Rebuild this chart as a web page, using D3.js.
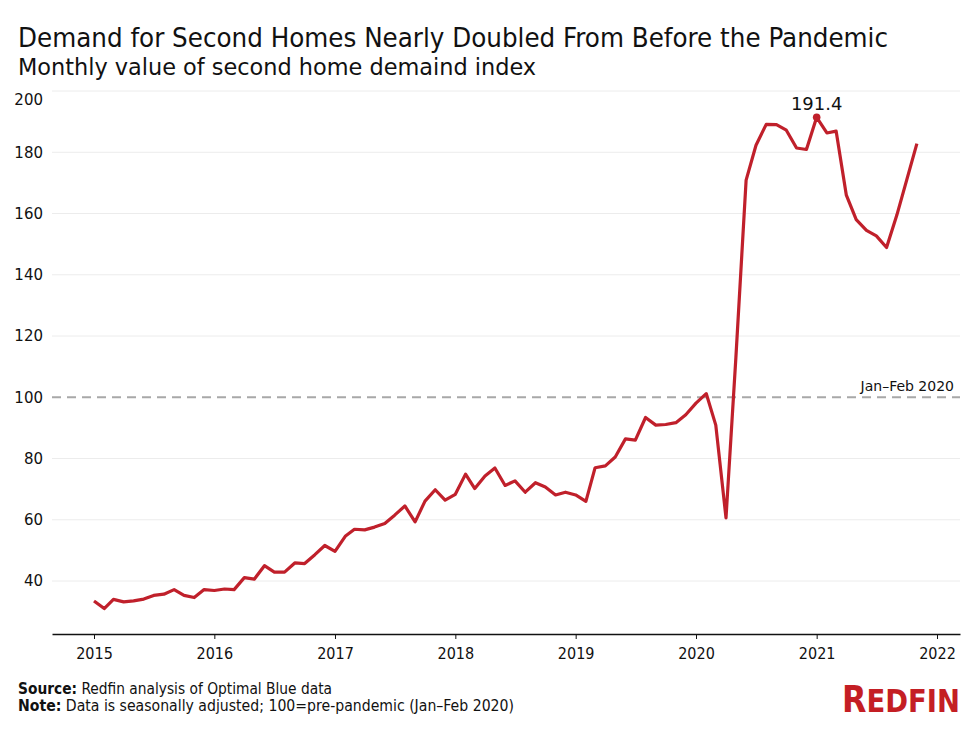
<!DOCTYPE html>
<html>
<head>
<meta charset="utf-8">
<script src="https://cdn.jsdelivr.net/npm/d3@7"></script>
<style>
  html, body { margin: 0; padding: 0; background: #fff; }
  svg { display: block; }
</style>
</head>
<body>
<svg id="chart" width="976" height="729"></svg>
<script>
// ---- Data ----
const startYear = 2015;
const values = [
  // 2015
  33.5, 31.0, 34.0, 33.2, 33.5, 34.1, 35.3, 35.7, 37.2, 35.3, 34.6, 37.2,
  // 2016
  36.9, 37.4, 37.2, 41.1, 40.6, 45.0, 42.9, 42.9, 45.9, 45.7, 48.6, 51.6,
  // 2017
  49.7, 54.6, 56.9, 56.7, 57.6, 58.8, 61.5, 64.5, 59.3, 66.1, 69.8, 66.4,
  // 2018
  68.3, 74.9, 70.2, 74.3, 76.9, 71.2, 72.7, 69.0, 72.1, 70.7, 68.1, 69.0,
  // 2019
  68.1, 66.0, 77.0, 77.6, 80.5, 86.4, 86.0, 93.4, 90.9, 91.1, 91.7, 94.3,
  // 2020
  98.1, 101.2, 90.9, 60.6, 113.0, 170.9, 182.3, 189.1, 189.0, 187.2, 181.4, 180.9,
  // 2021
  191.4, 186.3, 186.9, 166.0, 158.0, 154.5, 152.7, 148.9, 159.4, 170.9, 182.8
];
const yTicks = [40, 60, 80, 100, 120, 140, 160, 180, 200];
const xTickYears = [2015, 2016, 2017, 2018, 2019, 2020, 2021, 2022];
const peakLabel = "191.4";
const refValue = 100;
const refLabel = "Jan\u2013Feb 2020";
const titleText = "Demand for Second Homes Nearly Doubled From Before the Pandemic";
const subtitleText = "Monthly value of second home demaind index";

(function () {
const data = values.map((v, i) => ({
  date: new Date(startYear + Math.floor(i / 12), i % 12, 1),
  value: v
}));

// ---- Layout ----
const svg = d3.select("#chart");
const mLeft = 52, mRight = 960, mTop = 91, mBottom = 634;

// place Jan 2015 and Jan 2022 at the reference positions, extend to plot edges
const xBase = d3.scaleTime()
  .domain([new Date(2015, 0, 1), new Date(2022, 0, 1)])
  .range([94, 937]);
const x = d3.scaleTime()
  .domain([xBase.invert(mLeft), xBase.invert(mRight)])
  .range([mLeft, mRight]);
const y = d3.scaleLinear()
  .domain([22.7, 200])
  .range([mBottom, mTop]);

const red = "#c0202b";
const condensed = "'DejaVu Sans Condensed', 'DejaVu Sans', sans-serif";

// Title & subtitle
svg.append("text")
  .attr("x", 18).attr("y", 47)
  .attr("font-family", condensed)
  .attr("font-size", 27)
  .attr("textLength", 870).attr("lengthAdjust", "spacingAndGlyphs")
  .attr("fill", "#111")
  .text(titleText);
svg.append("text")
  .attr("x", 18).attr("y", 75)
  .attr("font-family", condensed)
  .attr("font-size", 23)
  .attr("textLength", 518).attr("lengthAdjust", "spacingAndGlyphs")
  .attr("fill", "#111")
  .text(subtitleText);

// Gridlines
svg.append("g")
  .selectAll("line")
  .data(yTicks.filter(d => d !== refValue))
  .join("line")
  .attr("x1", mLeft).attr("x2", mRight)
  .attr("y1", d => y(d)).attr("y2", d => y(d))
  .attr("stroke", "#ececec").attr("stroke-width", 1);

// Y axis labels
const yAxis = d3.axisLeft(y).tickValues(yTicks).tickSize(0).tickPadding(9);
const yg = svg.append("g").attr("transform", `translate(${mLeft},0)`).call(yAxis);
yg.select(".domain").remove();
yg.selectAll("text")
  .attr("font-family", "'DejaVu Sans', sans-serif")
  .attr("font-size", 15)
  .attr("fill", "#111")
  .attr("dy", d => d === 200 ? "0.9em" : "0.32em");

// Reference dashed line
svg.append("line")
  .attr("x1", mLeft).attr("x2", mRight)
  .attr("y1", y(refValue)).attr("y2", y(refValue))
  .attr("stroke", "#a8a8a8").attr("stroke-width", 2)
  .attr("stroke-dasharray", "9,6");
svg.append("text")
  .attr("x", 954).attr("y", y(refValue) - 6)
  .attr("text-anchor", "end")
  .attr("font-family", "'DejaVu Sans', sans-serif")
  .attr("font-size", 14)
  .attr("fill", "#111")
  .text(refLabel);

// X axis
const xAxis = d3.axisBottom(x)
  .tickValues(xTickYears.map(yr => new Date(yr, 0, 1)))
  .tickFormat(d3.timeFormat("%Y"))
  .tickSize(5).tickPadding(9).tickSizeOuter(0);
const xg = svg.append("g").attr("transform", `translate(0,${mBottom})`).call(xAxis);
xg.select(".domain").attr("stroke", "#111").attr("stroke-width", 1.5);
xg.selectAll(".tick line").attr("stroke", "#111");
xg.selectAll("text")
  .attr("font-family", condensed)
  .attr("font-size", 16)
  .attr("fill", "#111");

// Line
const line = d3.line().x(d => x(d.date)).y(d => y(d.value));
svg.append("path")
  .datum(data)
  .attr("d", line)
  .attr("fill", "none")
  .attr("stroke", red)
  .attr("stroke-width", 3.2)
  .attr("stroke-linejoin", "round");

// Peak marker
const peak = data.reduce((a, b) => (b.value > a.value ? b : a));
svg.append("circle")
  .attr("cx", x(peak.date)).attr("cy", y(peak.value))
  .attr("r", 3.8).attr("fill", red);
svg.append("text")
  .attr("x", x(peak.date)).attr("y", y(peak.value) - 7)
  .attr("text-anchor", "middle")
  .attr("font-family", "'DejaVu Sans', sans-serif")
  .attr("font-size", 18)
  .attr("fill", "#111")
  .text(peakLabel);

// Footer
const f1 = svg.append("text").attr("x", 18).attr("y", 694)
  .attr("font-family", condensed).attr("font-size", 15).attr("fill", "#111")
  .attr("textLength", 314).attr("lengthAdjust", "spacingAndGlyphs");
f1.append("tspan").attr("font-weight", "bold").text("Source:");
f1.append("tspan").text(" Redfin analysis of Optimal Blue data");
const f2 = svg.append("text").attr("x", 18).attr("y", 711)
  .attr("font-family", condensed).attr("font-size", 15).attr("fill", "#111")
  .attr("textLength", 496).attr("lengthAdjust", "spacingAndGlyphs");
f2.append("tspan").attr("font-weight", "bold").text("Note:");
f2.append("tspan").text(" Data is seasonally adjusted; 100=pre-pandemic (Jan\u2013Feb 2020)");

// Logo
const logo = svg.append("text").attr("x", 842).attr("y", 712)
  .attr("font-family", condensed).attr("font-weight", "bold")
  .attr("fill", "#c41e24")
  .attr("textLength", 118).attr("lengthAdjust", "spacingAndGlyphs");
logo.append("tspan").attr("font-size", 37).text("R");
logo.append("tspan").attr("font-size", 32).text("EDFIN");
})();
</script>
</body>
</html>
